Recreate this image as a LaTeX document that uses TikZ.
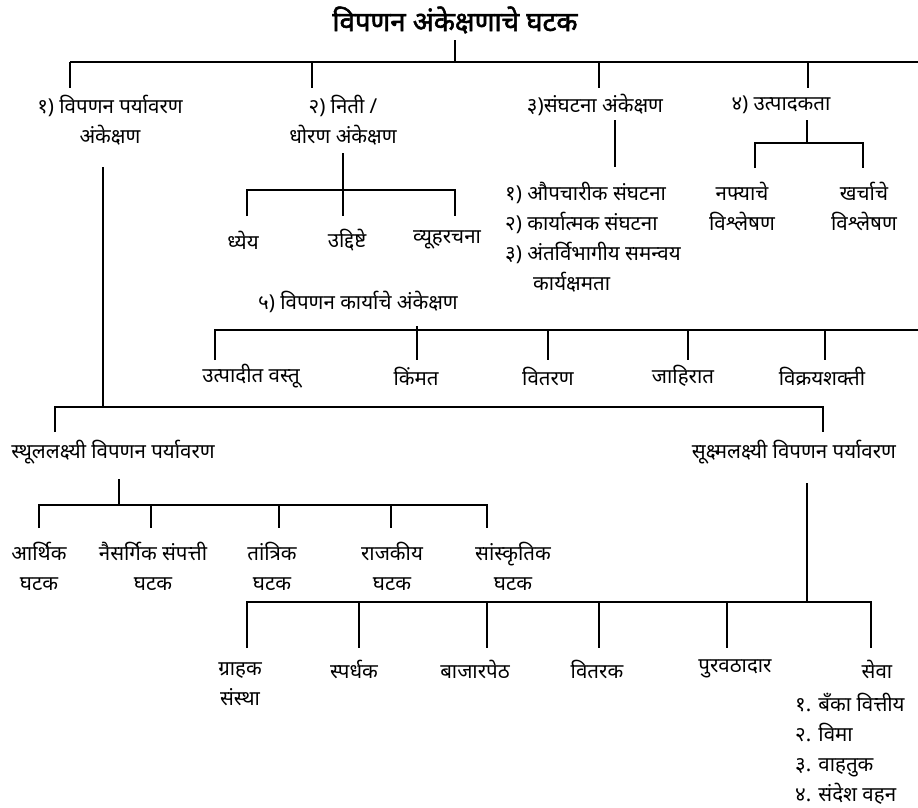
\documentclass[tikz,border=0pt]{standalone}
\usepackage{fontspec}
\setmainfont[Script=Devanagari]{Noto Sans}
\newfontfamily\ttlfont[Script=Devanagari,FakeBold=2]{Noto Sans}
\begin{document}
\begin{tikzpicture}[x=1pt,y=-1pt,
  lbl/.style={font=\fontsize{20.5}{30}\selectfont, inner sep=0pt, align=center},
  lst/.style={font=\fontsize{20.5}{30}\selectfont, inner sep=0pt, align=left},
  ttl/.style={font=\fontsize{27.5}{30}\selectfont\ttlfont, inner sep=0pt},
  conn/.style={line width=1.6pt}]
\useasboundingbox (0,0) rectangle (918,807);
% title and first level
\node[ttl] (title) at (455,20) {विपणन अंकेक्षणाचे घटक};
\node[lbl] (n1) at (110,120) {१) विपणन पर्यावरण\\अंकेक्षण};
\node[lbl] (n2) at (343,120) {२) निती /\\धोरण अंकेक्षण};
\node[lbl] (n3) at (595,105) {३)संघटना अंकेक्षण};
\node[lbl] (n4) at (781,105) {४) उत्पादकता};
\coordinate (t0) at (455,40);
\coordinate (b1l) at (70,62);
\coordinate (b1r) at (918,62);
\draw[conn] (t0) -- (455,62);
\draw[conn] (b1l) -- (b1r);
\draw[conn] (70,62) -- (70,88);
\draw[conn] (312,62) -- (312,88);
\draw[conn] (599,62) -- (599,88);
\draw[conn] (808,62) -- (808,88);
% policy
\node[lbl] (p1) at (243,240) {ध्येय};
\node[lbl] (p2) at (347,240) {उद्दिष्टे};
\node[lbl] (p3) at (447,240) {व्यूहरचना};
\draw[conn] (343,153) -- (343,190);
\draw[conn] (247,216) -- (247,190) -- (455,190) -- (455,216);
\draw[conn] (343,190) -- (343,216);
% organisation
\draw[conn] (615,120) -- (615,167);
\node[lst, anchor=west] (o1) at (505,237) {१) औपचारीक संघटना\\२) कार्यात्मक संघटना\\३) अंतर्विभागीय समन्वय\\\hspace*{28pt}कार्यक्षमता};
% productivity
\draw[conn] (807,120) -- (807,143);
\draw[conn] (755,168) -- (755,143) -- (863,143) -- (863,168);
\node[lbl] (q1) at (742,206) {नफ्याचे\\विश्लेषण};
\node[lbl] (q2) at (864,206) {खर्चाचे\\विश्लेषण};
% marketing functions
\node[lbl] (n5) at (358,302) {५) विपणन कार्याचे अंकेक्षण};
\draw[conn] (215,360) -- (215,330) -- (918,330);
\draw[conn] (417,326) -- (417,360);
\draw[conn] (548,330) -- (548,360);
\draw[conn] (688,330) -- (688,360);
\draw[conn] (825,330) -- (825,360);
\node[lbl] (f1) at (251,376) {उत्पादीत वस्तू};
\node[lbl] (f2) at (416,376) {किंमत};
\node[lbl] (f3) at (548,376) {वितरण};
\node[lbl] (f4) at (683,376) {जाहिरात};
\node[lbl] (f5) at (822,376) {विक्रयशक्ती};
% environment
\draw[conn] (103,167) -- (103,407);
\draw[conn] (55,432) -- (55,407) -- (823,407) -- (823,432);
\node[lbl] (m1) at (113,452) {स्थूललक्ष्यी विपणन पर्यावरण};
\node[lbl] (m2) at (794,452) {सूक्ष्मलक्ष्यी विपणन पर्यावरण};
% macro
\draw[conn] (119,479) -- (119,505);
\draw[conn] (39,528) -- (39,505) -- (487,505) -- (487,528);
\draw[conn] (151,505) -- (151,528);
\draw[conn] (279,505) -- (279,528);
\draw[conn] (391,505) -- (391,528);
\node[lbl] (a1) at (39,566) {आर्थिक\\घटक};
\node[lbl] (a2) at (153,566) {नैसर्गिक संपत्ती\\घटक};
\node[lbl] (a3) at (272,566) {तांत्रिक\\घटक};
\node[lbl] (a4) at (392,566) {राजकीय\\घटक};
\node[lbl] (a5) at (513,566) {सांस्कृतिक\\घटक};
% micro
\draw[conn] (807,483) -- (807,602);
\draw[conn] (247,648) -- (247,602) -- (871,602) -- (871,648);
\draw[conn] (359,602) -- (359,648);
\draw[conn] (487,602) -- (487,648);
\draw[conn] (599,602) -- (599,648);
\draw[conn] (727,602) -- (727,648);
\node[lbl] (c1) at (240,684) {ग्राहक\\संस्था};
\node[lbl] (c2) at (354,669) {स्पर्धक};
\node[lbl] (c3) at (475,669) {बाजारपेठ};
\node[lbl] (c4) at (597,669) {वितरक};
\node[lbl] (c5) at (735,669) {पुरवठादार};
\node[lbl] (c6) at (877,669) {सेवा};
\node[lst, anchor=west] (s1) at (795,749) {१. बँका वित्तीय\\२. विमा\\३. वाहतुक\\४. संदेश वहन};
\end{tikzpicture}
\end{document}
